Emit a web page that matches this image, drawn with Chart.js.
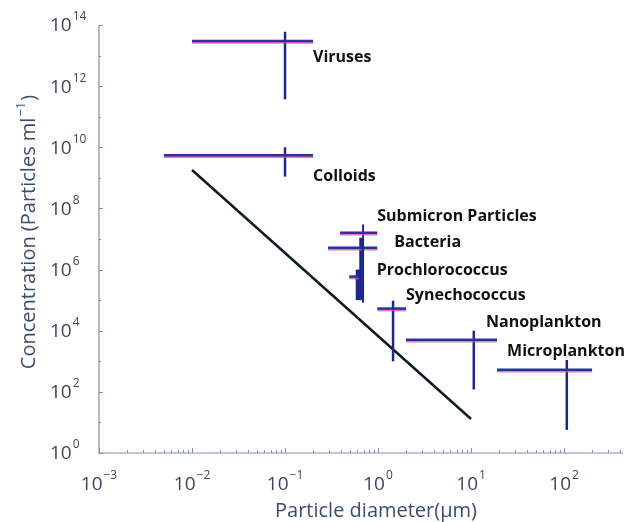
<!DOCTYPE html>
<html>
<head>
<meta charset="utf-8">
<script src="https://cdn.jsdelivr.net/npm/chart.js@4.4.1/dist/chart.umd.min.js"></script>
<style>
  html, body { margin: 0; padding: 0; background: #fff; }
  #wrap { width: 628px; height: 522px; }
</style>
</head>
<body>
<div id="wrap"><canvas id="sizeChart" width="628" height="522"></canvas></div>
<script>
// particle classes: diameter in µm, concentration in particles per ml
const categories = ['Viruses', 'Colloids', 'Submicron Particles', 'Bacteria',
  'Prochlorococcus', 'Synechococcus', 'Nanoplankton', 'Microplankton'];
const diameterMid = [0.1, 0.1, 0.69, 0.66, 0.62, 1.45, 10.7, 107];
const diameterLow = [0.01, 0.005, 0.39, 0.29, 0.49, 0.98, 2, 19];
const diameterHigh = [0.2, 0.2, 0.98, 0.98, 0.62, 2, 19, 200];
const concMid = [3e13, 5.5e9, 1.6e7, 5.2e6, 5.9e5, 5.3e4, 5.1e3, 5.3e2];
const concLow = [3.7e11, 1.1e9, 8.3e4, 1.05e5, 1e5, 1e3, 1.2e2, 5.7];
const concHigh = [6e13, 1e10, 3e7, 1.1e7, 1e6, 9.6e4, 1e4, 1.1e3];

// black size-spectrum line
const trendDiameter = [0.01, 10];
const trendConc = [1.8e9, 13];

const xTickExp = [-3, -2, -1, 0, 1, 2];
const yTickExp = [0, 2, 4, 6, 8, 10, 12, 14];

// styling
const vWidth = [2.5, 2.5, 2, 4, 6, 2.5, 2.5, 2.5];
const labelShift = [[0, 16], [0, 21], [0, -16], [17, -5], [18, -6], [0, -13], [-11, -17], [-85, -18]];
const hColor = '#2d2f9c';
const vColor = '#1e2889';
const axisText = '#3c4562';

const datasets = [];
categories.forEach((name, i) => {
  datasets.push({
    label: name + ' size',
    kind: 'h',
    data: [{ x: diameterLow[i], y: concMid[i] }, { x: diameterHigh[i], y: concMid[i] }],
    borderColor: hColor,
    borderWidth: 2.5
  });
  datasets.push({
    label: name + ' conc',
    kind: 'v',
    data: [{ x: diameterMid[i], y: concLow[i] }, { x: diameterMid[i], y: concHigh[i] }],
    borderColor: vColor,
    borderWidth: vWidth[i]
  });
});
datasets.push({
  label: 'spectrum',
  kind: 'trend',
  data: trendDiameter.map((d, i) => ({ x: d, y: trendConc[i] })),
  borderColor: '#0c1c1e',
  borderWidth: 2.5
});

function drawPow(ctx, x, y, exp, align) {
  const base = '10';
  const sup = exp < 0 ? '\u2212' + Math.abs(exp) : String(exp);
  ctx.font = '19px "Open Sans"';
  const wb = ctx.measureText(base).width;
  ctx.font = '12px "Open Sans"';
  const ws = ctx.measureText(sup).width;
  let left = align === 'center' ? x - (wb + ws + 1) / 2 : x;
  ctx.textAlign = 'left';
  ctx.textBaseline = 'middle';
  ctx.font = '19px "Open Sans"';
  ctx.fillText(base, left, y);
  ctx.font = '12px "Open Sans"';
  ctx.fillText(sup, left + wb + 1, y - 9);
}

// axes, ticks and titles drawn from the chart scales
const axesPlugin = {
  id: 'logAxes',
  beforeDatasetsDraw(chart) {
    const { ctx, chartArea: a, scales: { x, y } } = chart;
    ctx.save();
    ctx.strokeStyle = '#7d8fb3';
    ctx.lineWidth = 1.2;
    ctx.beginPath();
    ctx.moveTo(a.left, a.top);
    ctx.lineTo(a.left, a.bottom);
    ctx.lineTo(a.right, a.bottom);
    ctx.stroke();

    ctx.lineWidth = 1;
    ctx.beginPath();
    for (let e = -3; e <= 2; e++) {
      for (let m = 1; m <= 9; m++) {
        const v = m * Math.pow(10, e);
        if (v > x.max) break;
        const px = Math.round(x.getPixelForValue(v)) + 0.5;
        ctx.moveTo(px, a.bottom);
        ctx.lineTo(px, a.bottom - (m === 1 ? 5 : 3));
      }
    }
    for (let e = 0; e <= 14; e++) {
      const py = Math.round(y.getPixelForValue(Math.pow(10, e))) + 0.5;
      ctx.moveTo(a.left, py);
      ctx.lineTo(a.left + (e % 2 === 0 ? 4 : 2), py);
    }
    ctx.stroke();

    ctx.fillStyle = axisText;
    xTickExp.forEach(e => drawPow(ctx, x.getPixelForValue(Math.pow(10, e)), 485, e, 'center'));
    yTickExp.forEach(e => drawPow(ctx, 50, y.getPixelForValue(Math.pow(10, e)) + 1, e, 'left'));

    // axis titles
    ctx.fillStyle = '#3d4d70';
    ctx.font = '20px "Open Sans"';
    ctx.textAlign = 'center';
    ctx.textBaseline = 'middle';
    ctx.fillText('Particle diameter(\u00b5m)', 376, 511);

    ctx.translate(29, 232);
    ctx.rotate(-Math.PI / 2);
    const t1 = 'Concentration (Particles ml';
    const t2 = '\u22121';
    const t3 = ')';
    ctx.font = '20px "Open Sans"';
    const w1 = ctx.measureText(t1).width;
    const w3 = ctx.measureText(t3).width;
    ctx.font = '13px "Open Sans"';
    const w2 = ctx.measureText(t2).width;
    let sx = -(w1 + w2 + w3 + 2) / 2;
    ctx.textAlign = 'left';
    ctx.font = '20px "Open Sans"';
    ctx.fillText(t1, sx, 0);
    ctx.font = '13px "Open Sans"';
    ctx.fillText(t2, sx + w1 + 1, -8);
    ctx.font = '20px "Open Sans"';
    ctx.fillText(t3, sx + w1 + w2 + 2, 0);
    ctx.restore();
  },
  beforeDatasetDraw(chart, args) {
    const ds = chart.data.datasets[args.index];
    chart.ctx.save();
    if (ds.kind === 'h') {
      chart.ctx.shadowColor = 'rgba(232, 70, 160, 0.75)';
      chart.ctx.shadowOffsetY = 1.5;
      chart.ctx.shadowBlur = 0.5;
    }
  },
  afterDatasetDraw(chart) {
    chart.ctx.restore();
  },
  afterDatasetsDraw(chart) {
    const { ctx, scales: { x, y } } = chart;
    ctx.save();
    ctx.fillStyle = '#111';
    ctx.font = 'bold 16px "Open Sans"';
    ctx.textAlign = 'left';
    ctx.textBaseline = 'middle';
    categories.forEach((name, i) => {
      const px = x.getPixelForValue(diameterHigh[i]) + labelShift[i][0];
      const py = y.getPixelForValue(concMid[i]) + labelShift[i][1];
      ctx.fillText(name, px, py);
    });
    ctx.restore();
  }
};

new Chart(document.getElementById('sizeChart'), {
  type: 'line',
  data: { datasets },
  options: {
    responsive: false,
    animation: false,
    layout: { padding: { left: 99, right: 5, top: 25, bottom: 69 } },
    elements: { point: { radius: 0 }, line: { tension: 0 } },
    plugins: { legend: { display: false }, tooltip: { enabled: false } },
    scales: {
      x: { type: 'logarithmic', min: 0.001, max: 430, display: false },
      y: { type: 'logarithmic', min: 1, max: 1e14, display: false }
    }
  },
  plugins: [axesPlugin]
});
</script>
</body>
</html>
